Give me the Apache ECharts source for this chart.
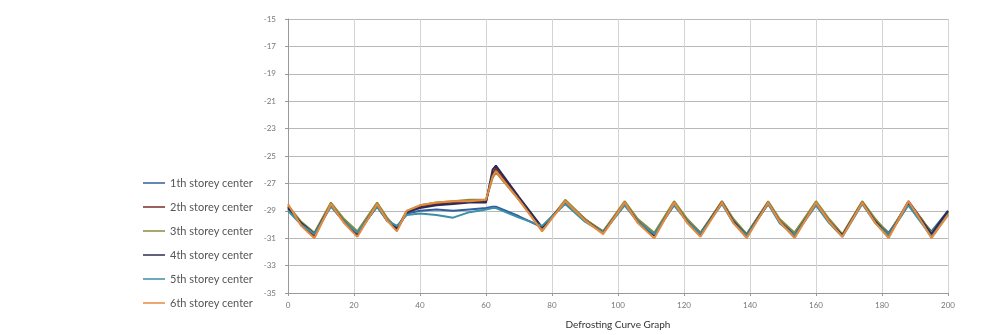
<!DOCTYPE html>
<html>
<head>
<meta charset="utf-8">
<script src="https://cdn.jsdelivr.net/npm/echarts@6/dist/echarts.min.js"></script>
<style>html,body{margin:0;padding:0;background:#fff}#c{width:991px;height:335px}</style>
</head>
<body>
<div id="c"></div>
<script>
var xValues = [0,4,8,13,17,21,27,30,33,36,40,45,50,55,60,62,63,70,77,84,90,95.5,102,106,111,117,121,125,131.5,135,139,145.5,149,153.5,160,164,168,174,178,182,188,192,195,200];
var seriesNames = ['1th storey center','2th storey center','3th storey center','4th storey center','5th storey center','6th storey center'];
var seriesColors = ['#2f5f9e','#7a2b2b','#8c8a3e','#2b2b55','#3b8fa6','#e58a3e'];
var s1 = [-28.9,-29.9,-30.7,-28.6,-29.7,-30.6,-28.7,-29.7,-30.2,-29.2,-29.0,-28.9,-29.0,-28.9,-28.8,-28.7,-28.7,-29.4,-30.2,-28.4,-29.7,-30.5,-28.5,-29.7,-30.7,-28.5,-29.7,-30.6,-28.4,-29.8,-30.7,-28.4,-29.8,-30.6,-28.5,-29.8,-30.8,-28.4,-29.7,-30.6,-28.5,-29.7,-30.5,-29.0];
var s2 = [-28.7,-30.0,-30.9,-28.5,-29.8,-30.8,-28.5,-29.6,-30.4,-29.1,-28.7,-28.5,-28.4,-28.3,-28.3,-26.3,-25.9,-28.1,-30.3,-28.3,-29.6,-30.6,-28.4,-29.8,-30.8,-28.4,-29.8,-30.7,-28.3,-29.7,-30.8,-28.5,-29.7,-30.9,-28.4,-29.7,-30.8,-28.4,-29.8,-30.8,-28.3,-29.6,-30.7,-29.1];
var s3 = [-28.6,-29.8,-30.6,-28.4,-29.6,-30.5,-28.4,-29.5,-30.3,-29.0,-28.6,-28.4,-28.3,-28.2,-28.2,-26.6,-26.2,-28.2,-30.4,-28.2,-29.6,-30.5,-28.3,-29.6,-30.6,-28.3,-29.6,-30.6,-28.3,-29.6,-30.7,-28.3,-29.6,-30.6,-28.3,-29.6,-30.7,-28.3,-29.6,-30.7,-28.4,-29.6,-30.6,-29.2];
var s4 = [-28.8,-29.9,-30.7,-28.6,-29.8,-30.7,-28.6,-29.7,-30.3,-29.1,-28.8,-28.6,-28.5,-28.4,-28.4,-26.0,-25.7,-28.0,-30.2,-28.4,-29.7,-30.6,-28.5,-29.8,-30.8,-28.5,-29.8,-30.7,-28.4,-29.8,-30.8,-28.4,-29.8,-30.8,-28.5,-29.8,-30.8,-28.4,-29.8,-30.8,-28.5,-29.7,-30.7,-29.0];
var s5 = [-29.0,-30.0,-30.7,-28.7,-29.8,-30.6,-28.7,-29.7,-30.1,-29.3,-29.2,-29.3,-29.5,-29.1,-28.9,-28.8,-28.8,-29.5,-30.1,-28.5,-29.8,-30.6,-28.6,-29.8,-30.7,-28.6,-29.8,-30.7,-28.5,-29.9,-30.8,-28.5,-29.9,-30.8,-28.6,-29.9,-30.9,-28.5,-29.9,-30.8,-28.6,-29.9,-30.9,-29.3];
var s6 = [-28.5,-30.1,-31.0,-28.5,-29.9,-30.9,-28.5,-29.7,-30.5,-29.0,-28.6,-28.4,-28.3,-28.3,-28.2,-26.5,-26.1,-28.2,-30.5,-28.3,-29.7,-30.7,-28.4,-29.9,-31.0,-28.4,-29.9,-30.9,-28.4,-29.9,-31.0,-28.4,-29.8,-31.0,-28.4,-29.8,-30.9,-28.4,-29.9,-31.0,-28.3,-29.8,-31.0,-29.3];
var seriesValues = [s1,s2,s3,s4,s5,s6];
var chartTitle = 'Defrosting Curve Graph';

var chart = echarts.init(document.getElementById('c'));
var series = seriesValues.map(function(vals, i){
  return {
    name: seriesNames[i], type: 'line', symbol: 'none', smooth: false,
    data: vals.map(function(v, j){ return [xValues[j], v]; }),
    lineStyle: {width: 2, color: seriesColors[i]},
    itemStyle: {color: seriesColors[i]}
  };
});
chart.setOption({
  animation: false,
  backgroundColor: '#fff',
  grid: {left: 288, right: 43, top: 19, bottom: 42, containLabel: false},
  legend: {
    orient: 'vertical', left: 138, top: 171,
    icon: 'rect', itemWidth: 22, itemHeight: 1.5, itemGap: 10,
    textStyle: {fontFamily: 'Lato', fontSize: 11, color: '#555', lineHeight: 14},
    data: seriesNames
  },
  xAxis: {
    type: 'value', min: 0, max: 200, interval: 20,
    axisLine: {show: true, lineStyle: {color: '#999'}},
    axisTick: {show: true, length: 3, lineStyle: {color: '#999'}},
    axisLabel: {fontSize: 8, color: '#777', margin: 8, fontFamily: 'Lato'},
    splitLine: {show: true, lineStyle: {color: '#d4d4d4', width: 1}}
  },
  yAxis: {
    type: 'value', min: -35, max: -15, interval: 2,
    axisLine: {show: true, lineStyle: {color: '#999'}},
    axisTick: {show: true, length: 3, lineStyle: {color: '#999'}},
    axisLabel: {fontSize: 8, color: '#777', margin: 12, fontFamily: 'Lato'},
    splitLine: {show: true, lineStyle: {color: '#b8b8b8', width: 1}}
  },
  graphic: [{
    type: 'text', x: 618, y: 320,
    style: {text: chartTitle, textAlign: 'center', fontFamily: 'Lato', fontSize: 10, fill: '#333'}
  }],
  series: series
});
</script>
</body>
</html>
